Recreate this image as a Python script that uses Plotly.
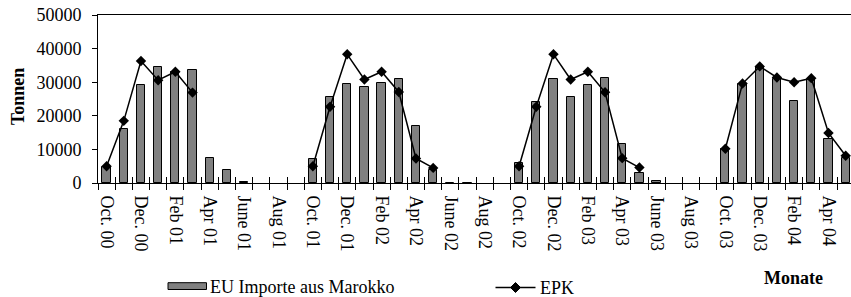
import plotly.graph_objects as go

# ---- data ----
months = [
    "Oct. 00", "Nov. 00", "Dec. 00", "Jan 01", "Feb 01", "Mar 01", "Apr 01", "May 01", "June 01", "July 01", "Aug 01", "Sep 01",
    "Oct. 01", "Nov. 01", "Dec. 01", "Jan 02", "Feb 02", "Mar 02", "Apr 02", "May 02", "June 02", "July 02", "Aug 02", "Sep 02",
    "Oct. 02", "Nov. 02", "Dec. 02", "Jan 03", "Feb 03", "Mar 03", "Apr 03", "May 03", "June 03", "July 03", "Aug 03", "Sep 03",
    "Oct. 03", "Nov. 03", "Dec. 03", "Jan 04", "Feb 04", "Mar 04", "Apr 04", "May 04",
]
eu_importe = [
    4800, 16000, 29300, 34600, 33000, 33500, 7500, 3900, 300, None, None, None,
    7100, 25600, 29500, 28600, 29800, 31000, 16900, 3800, 150, 150, None, None,
    6100, 24200, 30900, 25500, 29200, 31200, 11500, 3100, 700, None, None, None,
    10200, 29400, 34600, 31100, 24300, 31100, 13200, 7500,
]
epk = [
    5000, 18500, 36300, 30600, 33100, 26900, None, None, None, None, None, None,
    5000, 22700, 38300, 30800, 33100, 27100, 7300, 4500, None, None, None, None,
    5000, 22700, 38300, 30800, 33100, 27000, 7400, 4600, None, None, None, None,
    10200, 29600, 34700, 31400, 30000, 31200, 14900, 8100,
]
tick_labels = months[::2]
y_ticks = [0, 10000, 20000, 30000, 40000, 50000]

FONT = "Liberation Serif, Times New Roman, serif"
FS = 18
W, H = 851, 297
ML, MR, MT, MB = 98, 0, 15, 114

idx = list(range(len(months)))

fig = go.Figure()
fig.add_trace(go.Bar(
    x=idx, y=eu_importe, name="EU Importe aus Marokko", width=0.48,
    marker=dict(color="#808080", line=dict(color="#000000", width=1)),
    showlegend=False,
))
fig.add_trace(go.Scatter(
    x=idx, y=epk, name="EPK", mode="lines+markers", connectgaps=False,
    line=dict(color="#000000", width=1.5),
    marker=dict(symbol="diamond", size=8, color="#000000"),
    showlegend=False,
))
# dummy trace so the overlay axis (inside ticks) is drawn
fig.add_trace(go.Scatter(x=[0], y=[None], xaxis="x2", showlegend=False, hoverinfo="skip"))

xr = [-0.5, 43.31]
fig.update_layout(
    width=W, height=H,
    margin=dict(l=ML, r=MR, t=MT, b=MB),
    paper_bgcolor="white", plot_bgcolor="white",
    font=dict(family=FONT, size=FS, color="black"),
    bargap=0,
    xaxis=dict(
        range=xr, tickmode="array", tickvals=idx[::2], ticktext=tick_labels,
        tickangle=90, ticks="", showgrid=False, zeroline=False, automargin=False,
        showline=True, linecolor="black", linewidth=1, mirror=True,
        tickfont=dict(family=FONT, size=FS), ticklabelstandoff=8,
        minor=dict(ticks="outside", tickmode="linear", tick0=-0.5, dtick=1,
                   ticklen=6, tickcolor="black", tickwidth=1, showgrid=False),
    ),
    xaxis2=dict(
        range=xr, overlaying="x", anchor="y", side="bottom", automargin=False,
        tickmode="linear", tick0=-0.5, dtick=1, ticks="inside", ticklen=6,
        tickcolor="black", tickwidth=1, showticklabels=False, showgrid=False,
        zeroline=False, showline=False,
    ),
    yaxis=dict(
        range=[0, 50000], tickmode="array", tickvals=y_ticks,
        ticktext=[str(v) for v in y_ticks], automargin=False,
        ticks="outside", ticklen=5, tickcolor="black", showgrid=False,
        zeroline=False, showline=True, linecolor="black", linewidth=1,
        tickfont=dict(family=FONT, size=FS), ticklabelstandoff=7,
    ),
)

PW = W - ML - MR
PH = H - MT - MB


def px(x):
    return (x - ML) / PW


def py(y):
    return (H - MB - y) / PH


# axis titles
fig.add_annotation(text="<b>Tonnen</b>", textangle=-90, x=px(18), y=py(97),
                   xref="paper", yref="paper", showarrow=False,
                   font=dict(family=FONT, size=FS), xanchor="center", yanchor="middle")
fig.add_annotation(text="<b>Monate</b>", x=px(793), y=py(278),
                   xref="paper", yref="paper", showarrow=False,
                   font=dict(family=FONT, size=FS), xanchor="center", yanchor="middle")

# legend (drawn manually)
fig.add_shape(type="rect", xref="paper", yref="paper",
              x0=px(168), x1=px(206.5), y0=py(289.5), y1=py(282.7),
              fillcolor="#808080", line=dict(color="black", width=1))
fig.add_annotation(text="EU Importe aus Marokko", x=px(208), y=py(287),
                   xref="paper", yref="paper", showarrow=False,
                   font=dict(family=FONT, size=FS), xanchor="left", yanchor="middle")
fig.add_shape(type="line", xref="paper", yref="paper",
              x0=px(495.5), x1=px(535.5), y0=py(287.5), y1=py(287.5),
              line=dict(color="black", width=1.5))
fig.add_shape(type="path", xref="paper", yref="paper",
              xsizemode="pixel", ysizemode="pixel",
              xanchor=px(515.5), yanchor=py(287.5),
              path="M -5 0 L 0 5 L 5 0 L 0 -5 Z",
              fillcolor="black", line=dict(color="black", width=1))
fig.add_annotation(text="EPK", x=px(538), y=py(287.5),
                   xref="paper", yref="paper", showarrow=False,
                   font=dict(family=FONT, size=FS), xanchor="left", yanchor="middle")

fig.write_html("out.html", config={"displayModeBar": False},
               post_script="document.body.style.margin='0';document.body.style.overflow='hidden';")
